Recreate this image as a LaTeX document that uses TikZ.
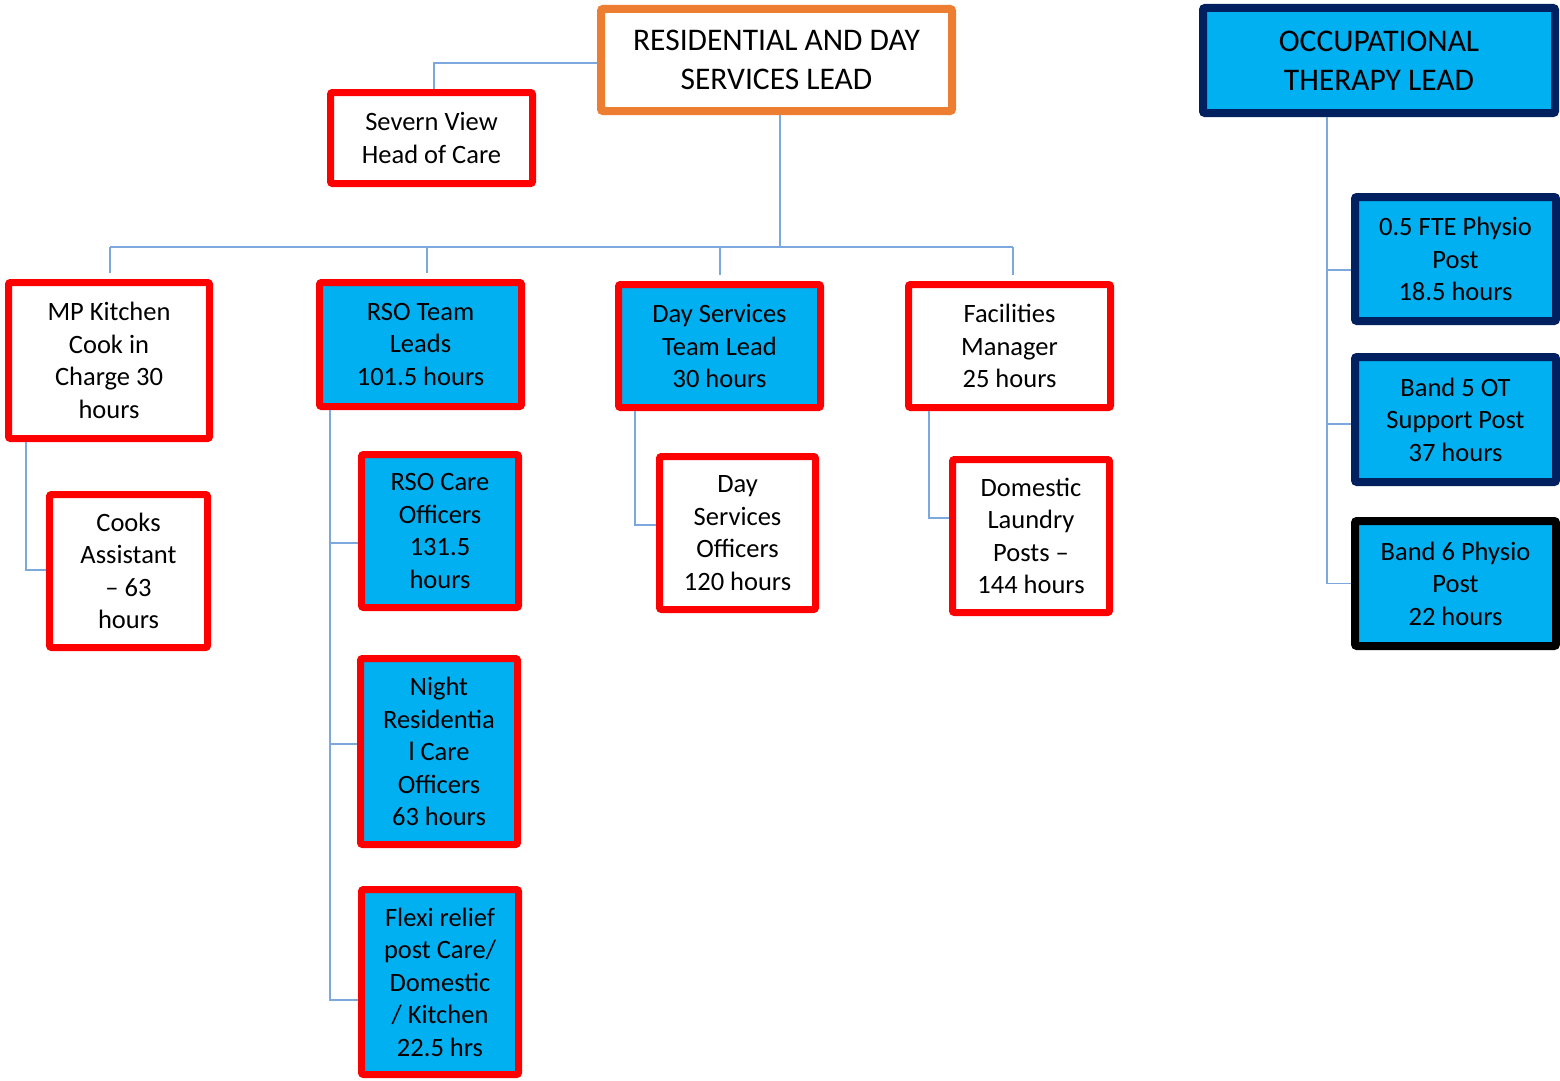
\documentclass[tikz,border=0pt]{standalone}
\usepackage{fontspec}
\setmainfont{Carlito}
\definecolor{boxred}{RGB}{255,0,0}
\definecolor{leadorange}{RGB}{237,125,49}
\definecolor{navy}{RGB}{0,32,96}
\definecolor{cyanfill}{RGB}{0,176,240}
\definecolor{linkblue}{RGB}{125,168,222}
\newcommand{\bodyfont}{\fontsize{26.5}{32.5}\selectfont}
\newcommand{\titlefont}{\fontsize{31.5}{39}\selectfont}
\tikzset{
  orgbox/.style={draw, line width=7pt, rounded corners=2pt, align=center,
    inner sep=0pt, font=\bodyfont, text=black},
  redwhite/.style={orgbox, draw=boxred, fill=white},
  redcyan/.style={orgbox, draw=boxred, fill=cyanfill},
  navycyan/.style={orgbox, draw=navy, fill=cyanfill, line width=8pt},
  blackcyan/.style={orgbox, draw=black, fill=cyanfill, line width=8pt},
  conn/.style={draw=linkblue, line width=1.6pt},
}
\begin{document}
\begin{tikzpicture}[x=1pt, y=-1pt]
\useasboundingbox (0,0) rectangle (1560,1081);

% Residential and day services branch
\node[orgbox, draw=leadorange, fill=white, line width=8pt, font=\titlefont,
  minimum width=351pt, minimum height=102pt] (lead) at (776.5,60)
  {RESIDENTIAL AND DAY\\SERVICES LEAD};
\node[redwhite, minimum width=202pt, minimum height=91pt] (severn) at (431.5,138)
  {Severn View\\Head of Care};

\node[redwhite, minimum width=201pt, minimum height=156pt] (kitchen) at (109,360.5)
  {MP Kitchen\\Cook in\\Charge 30\\hours};
\node[redcyan, minimum width=202pt, minimum height=124pt] (rsotl) at (420.5,344.5)
  {RSO Team\\Leads\\101.5 hours};
\node[redcyan, minimum width=202pt, minimum height=123pt] (daylead) at (719.5,346)
  {Day Services\\Team Lead\\30 hours};
\node[redwhite, minimum width=202pt, minimum height=123pt] (facil) at (1009.5,346)
  {Facilities\\Manager\\25 hours};

\node[redwhite, minimum width=158pt, minimum height=153pt] (cooks) at (128.5,571)
  {Cooks\\Assistant\\– 63\\hours};
\node[redcyan, minimum width=157pt, minimum height=153pt] (rsoco) at (440,531)
  {RSO Care\\Officers\\131.5\\hours};
\node[redcyan, minimum width=157pt, minimum height=186pt] (night) at (439,751.5)
  {Night\\Residentia\\l Care\\Officers\\63 hours};
\node[redcyan, minimum width=157pt, minimum height=185pt] (flexi) at (440,982)
  {Flexi relief\\post Care/\\Domestic\\/ Kitchen\\22.5 hrs};
\node[redwhite, minimum width=156pt, minimum height=153pt] (dayoff) at (737.5,533)
  {Day\\Services\\Officers\\120 hours};
\node[redwhite, minimum width=157pt, minimum height=153pt] (domestic) at (1031,536)
  {Domestic\\Laundry\\Posts –\\144 hours};

% Occupational therapy branch
\node[navycyan, font=\titlefont, minimum width=352pt, minimum height=105pt] (otlead) at (1379,60.5)
  {OCCUPATIONAL\\THERAPY LEAD};
\node[navycyan, minimum width=201pt, minimum height=124pt] (physio) at (1455.5,259)
  {0.5 FTE Physio\\Post\\18.5 hours};
\node[navycyan, minimum width=201pt, minimum height=125pt] (band5) at (1455.5,419.5)
  {Band 5 OT\\Support Post\\37 hours};
\node[blackcyan, minimum width=201pt, minimum height=125pt] (band6) at (1455.5,583.5)
  {Band 6 Physio\\Post\\22 hours};

% Connectors of the residential and day services branch
\coordinate (bus) at ([xshift=3.5pt,yshift=-132pt]lead.south);
\draw[conn] ([xshift=3.5pt]lead.south) -- (bus);
\draw[conn] ([xshift=1pt]kitchen.north |- bus) -- ([xshift=3.5pt]facil.north |- bus);
\foreach \n/\dx in {kitchen/1, rsotl/6.5, daylead/0.5, facil/3.5}
  \draw[conn] ([xshift=\dx pt]\n.north |- bus) -- ([xshift=\dx pt, yshift=6pt]\n.north);
\draw[conn] ([xshift=2.5pt]severn.north) |- ([yshift=-3pt]lead.west);

\draw[conn] ([xshift=-83pt]kitchen.south) |- ([yshift=1pt]cooks.west);

% RSO team trunk with its three branches
\coordinate (rsotrunk) at ([xshift=-90.5pt]rsotl.south);
\coordinate (rsocoin) at ([yshift=-12pt]rsoco.west);
\coordinate (nightin) at ([yshift=7.5pt]night.west);
\coordinate (flexiin) at ([yshift=-18pt]flexi.west);
\draw[conn] (rsotrunk) |- (flexiin);
\draw[conn] (rsotrunk |- rsocoin) -- (rsocoin);
\draw[conn] (rsotrunk |- nightin) -- (nightin);

\draw[conn] ([xshift=-84.5pt]daylead.south) |- ([yshift=8pt]dayoff.west);
\draw[conn] ([xshift=-80.5pt]facil.south) |- ([yshift=18pt]domestic.west);

% Connectors of the occupational therapy branch
\coordinate (ottrunk) at ([xshift=-52pt]otlead.south);
\coordinate (physioin) at ([yshift=-11pt]physio.west);
\coordinate (band5in) at ([yshift=-4.5pt]band5.west);
\draw[conn] (ottrunk) |- (band6.west);
\draw[conn] (ottrunk |- physioin) -- (physioin);
\draw[conn] (ottrunk |- band5in) -- (band5in);
\end{tikzpicture}
\end{document}
